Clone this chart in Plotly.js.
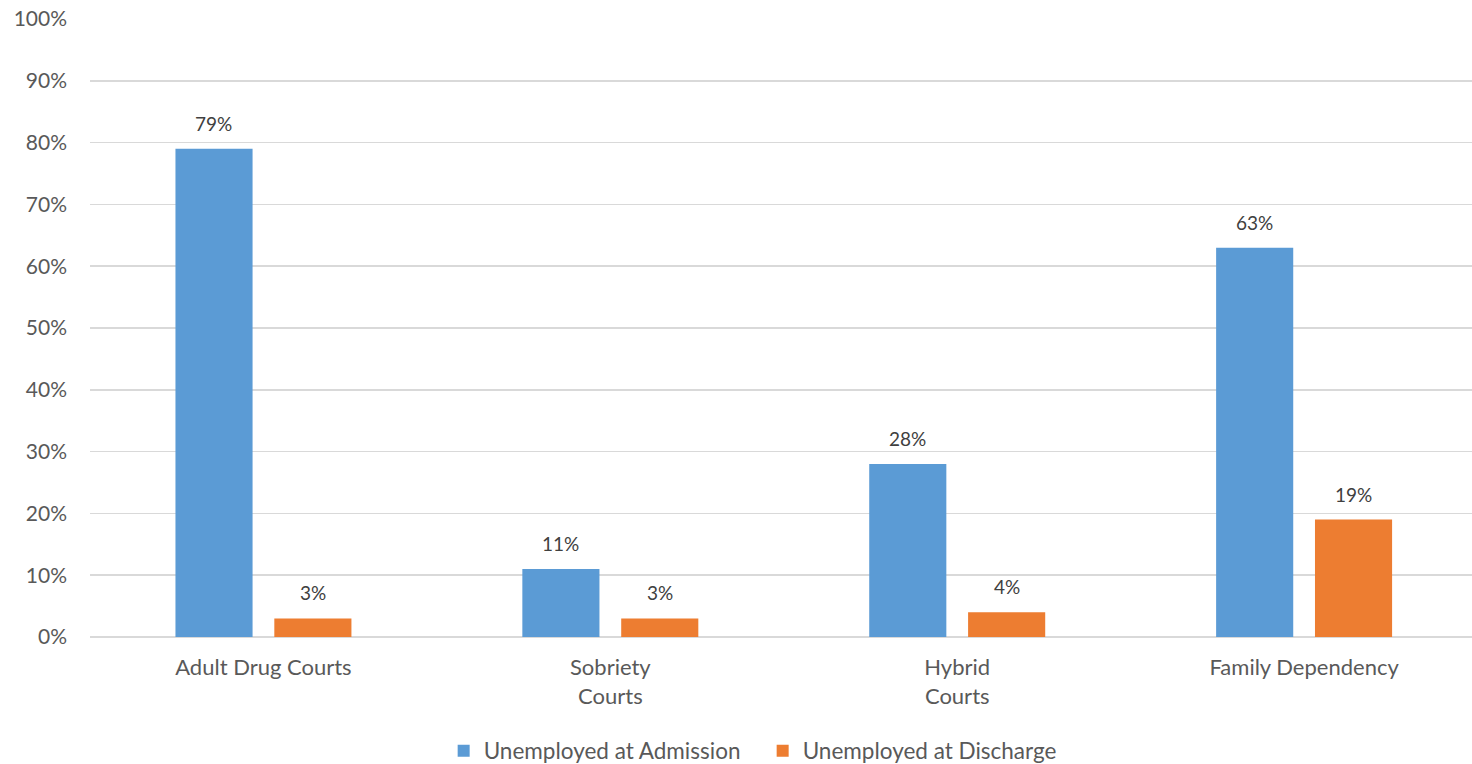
<!DOCTYPE html>
<html>
<head>
<meta charset="utf-8">
<script src="https://cdn.plot.ly/plotly-3.0.1.min.js"></script>
<style>html,body{margin:0;padding:0;background:#fff;}#chart{width:1472px;height:764px;}</style>
</head>
<body>
<div id="chart"></div>
<script>
const categories = ["Adult Drug Courts", "Sobriety<br>Courts", "Hybrid<br>Courts", "Family Dependency"];
const admission = [0.79, 0.11, 0.28, 0.63];
const discharge = [0.03, 0.03, 0.04, 0.19];
const seriesNames = ["Unemployed at Admission", "Unemployed at Discharge"];
const colors = ["#5B9BD5", "#ED7D31"];
const yTicks = [0, 0.1, 0.2, 0.3, 0.4, 0.5, 0.6, 0.7, 0.8, 0.9, 1.0];

const font = "Lato, 'Open Sans', sans-serif";
const txtColor = "#595959";

const traces = [admission, discharge].map((vals, i) => ({
  type: "bar",
  x: categories,
  y: vals,
  name: seriesNames[i],
  marker: {color: colors[i]},
  hoverinfo: "skip"
}));

const annotations = [];
[admission, discharge].forEach((vals, i) => {
  vals.forEach((v, j) => {
    annotations.push({
      x: categories[j], y: v, xref: "x", yref: "y",
      text: Math.round(v * 100) + "%",
      showarrow: false,
      xshift: i === 0 ? -49.5 : 49.5,
      yanchor: "bottom", yshift: 12,
      font: {family: font, size: 19, color: "#404040"}
    });
  });
});

const layout = {
  width: 1472, height: 764,
  margin: {l: 90, r: 0, t: 19, b: 127},
  paper_bgcolor: "#fff", plot_bgcolor: "#fff",
  barmode: "group",
  bargap: 0.43,
  bargroupgap: 0.22,
  font: {family: font, size: 20, color: txtColor},
  xaxis: {
    type: "category",
    range: [-0.5, 3.484],
    showgrid: false, zeroline: false, showline: false,
    ticks: "", tickfont: {family: font, size: 22, color: txtColor},
    ticklabelstandoff: 15,
    automargin: false
  },
  yaxis: {
    range: [0, 1],
    tickvals: yTicks,
    tickformat: ".0%",
    showgrid: true, gridcolor: "#d9d9d9", gridwidth: 1.5,
    zeroline: true, zerolinecolor: "#d9d9d9", zerolinewidth: 1.5,
    showline: false, ticks: "",
    ticklabelstandoff: 22,
    tickfont: {family: font, size: 21, color: txtColor},
    automargin: false
  },
  showlegend: true,
  legend: {
    orientation: "h", x: 0.3014, xanchor: "left", xref: "container",
    y: 0.017, yanchor: "middle", yref: "container",
    entrywidth: 274, entrywidthmode: "pixels",
    font: {family: font, size: 22.5, color: txtColor},
    itemclick: false, itemdoubleclick: false
  },
  annotations: annotations
};

Plotly.newPlot("chart", traces, layout, {staticPlot: true, displayModeBar: false});
</script>
</body>
</html>
